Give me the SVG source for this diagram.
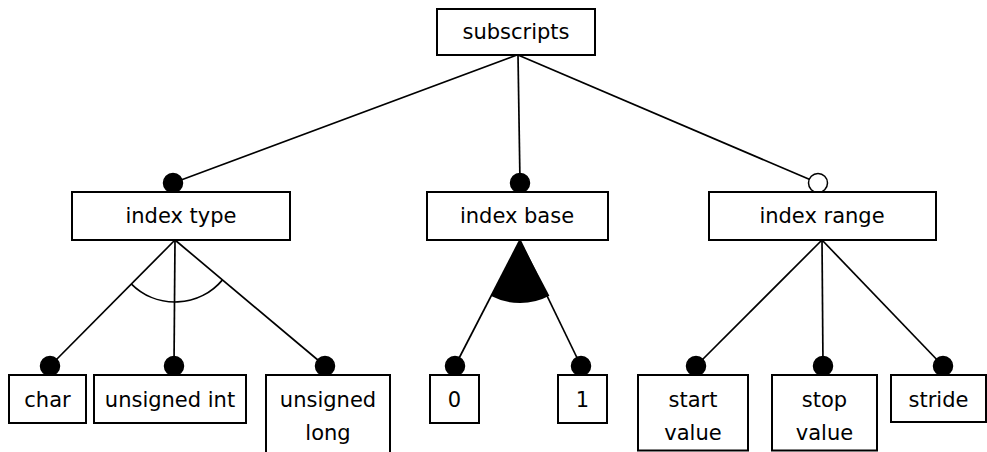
<svg xmlns="http://www.w3.org/2000/svg" width="987" height="452" viewBox="0 0 987 452">
  <style>
    .box { fill: #ffffff; stroke: #000000; stroke-width: 2; }
    .lbl { font-family: "Comic Sans MS", "DejaVu Sans", "Liberation Sans", sans-serif; font-size: 21px; fill: #000000; text-anchor: middle; }
    .edge { stroke: #000000; stroke-width: 1.7; fill: none; }
    .mand { fill: #000000; stroke: #000000; stroke-width: 1.5; }
    .opt { fill: #ffffff; stroke: #000000; stroke-width: 1.5; }
    .arc { stroke: #000000; stroke-width: 1.7; fill: none; }
  </style>
  <rect width="987" height="452" fill="#ffffff"/>

  <!-- connectors -->
  <g id="connectors">
    <line class="edge" x1="517" y1="55" x2="173" y2="183"/>
    <line class="edge" x1="518" y1="55" x2="520" y2="183"/>
    <line class="edge" x1="518" y1="55" x2="818" y2="183"/>

    <line class="edge" x1="175" y1="240" x2="50" y2="366"/>
    <line class="edge" x1="175" y1="240" x2="174" y2="366"/>
    <line class="edge" x1="175" y1="240" x2="325" y2="366"/>
    <!-- or-group arc -->
    <path class="arc" d="M131.2,283.8 A62,62 0 0 0 222.5,279.9"/>

    <line class="edge" x1="520" y1="240" x2="455" y2="366"/>
    <line class="edge" x1="520" y1="240" x2="581" y2="366"/>
    <!-- alternative-group filled sector -->
    <path fill="#000000" d="M520,240 L491.1,296 A63,63 0 0 0 549.4,295.7 Z"/>

    <line class="edge" x1="822" y1="240" x2="696" y2="366"/>
    <line class="edge" x1="822" y1="240" x2="823" y2="366"/>
    <line class="edge" x1="822" y1="240" x2="943" y2="366"/>

    <circle class="mand" cx="173" cy="183" r="9.5"/>
    <circle class="mand" cx="520" cy="183" r="9.5"/>
    <circle class="opt" cx="818" cy="183" r="9.5"/>

    <circle class="mand" cx="50" cy="366" r="9.5"/>
    <circle class="mand" cx="174" cy="366" r="9.5"/>
    <circle class="mand" cx="325" cy="366" r="9.5"/>
    <circle class="mand" cx="455" cy="366" r="9.5"/>
    <circle class="mand" cx="581" cy="366" r="9.5"/>
    <circle class="mand" cx="696" cy="366" r="9.5"/>
    <circle class="mand" cx="823" cy="366" r="9.5"/>
    <circle class="mand" cx="943" cy="366" r="9.5"/>
  </g>

  <g id="subscripts">
    <rect class="box" x="437" y="9" width="158" height="46"/>
    <text class="lbl" x="516" y="39">subscripts</text>
  </g>

  <g id="index-type">
    <rect class="box" x="72" y="192" width="218" height="48"/>
    <text class="lbl" x="181" y="223">index type</text>
  </g>

  <g id="index-base">
    <rect class="box" x="427" y="192" width="181" height="48"/>
    <text class="lbl" x="517" y="223">index base</text>
  </g>

  <g id="index-range">
    <rect class="box" x="709" y="192" width="227" height="48"/>
    <text class="lbl" x="822" y="223">index range</text>
  </g>

  <g id="char">
    <rect class="box" x="9" y="375" width="77" height="48"/>
    <text class="lbl" x="47.5" y="407">char</text>
  </g>

  <g id="unsigned-int">
    <rect class="box" x="94" y="375" width="152" height="48"/>
    <text class="lbl" x="170" y="407">unsigned int</text>
  </g>

  <g id="unsigned-long">
    <rect class="box" x="266" y="375" width="124" height="90"/>
    <text class="lbl" x="328" y="407">unsigned</text>
    <text class="lbl" x="328" y="440">long</text>
  </g>

  <g id="zero">
    <rect class="box" x="430" y="375" width="49" height="48"/>
    <text class="lbl" x="454.5" y="407">0</text>
  </g>

  <g id="one">
    <rect class="box" x="558" y="375" width="49" height="48"/>
    <text class="lbl" x="582.5" y="407">1</text>
  </g>

  <g id="start-value">
    <rect class="box" x="638" y="375" width="110" height="75.5"/>
    <text class="lbl" x="693" y="407">start</text>
    <text class="lbl" x="693" y="440">value</text>
  </g>

  <g id="stop-value">
    <rect class="box" x="772" y="375" width="105" height="75.5"/>
    <text class="lbl" x="824.5" y="407">stop</text>
    <text class="lbl" x="824.5" y="440">value</text>
  </g>

  <g id="stride">
    <rect class="box" x="891" y="375" width="95" height="47"/>
    <text class="lbl" x="938.5" y="407">stride</text>
  </g>
</svg>
